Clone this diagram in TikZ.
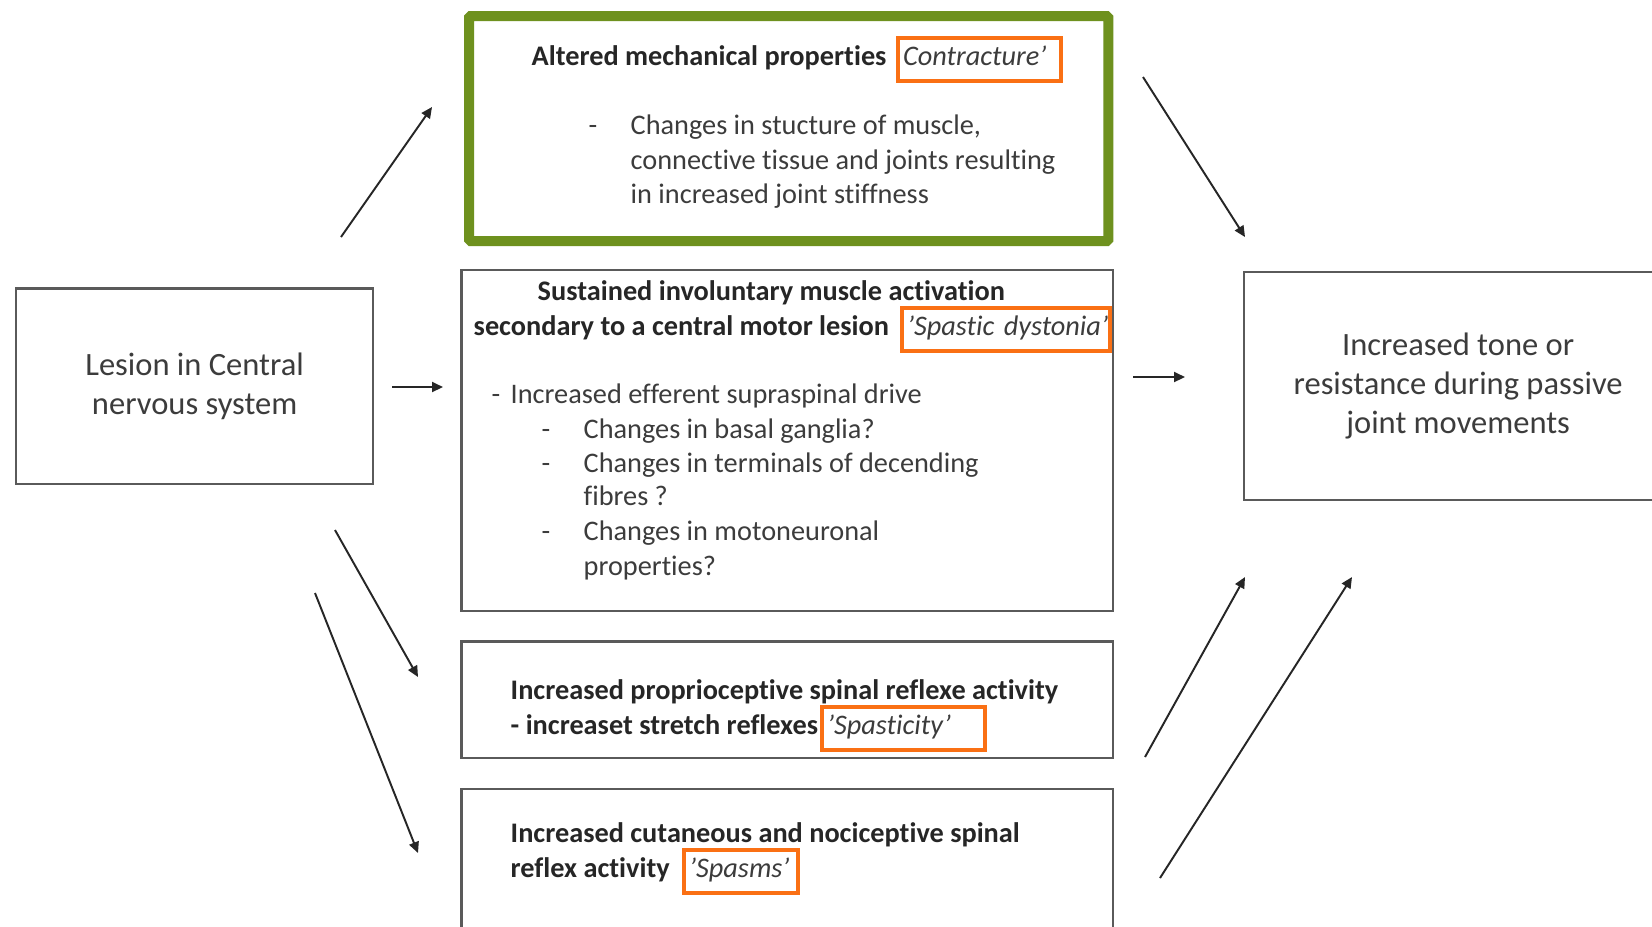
\documentclass[tikz,border=0pt]{standalone}
\usepackage{fontspec}
\setmainfont[Ligatures={TeX,NoCommon}]{Carlito}
\usepackage{tikz}
\usetikzlibrary{arrows.meta,positioning}
\definecolor{boxgray}{RGB}{90,90,90}
\definecolor{textgray}{RGB}{60,60,60}
\definecolor{framegreen}{RGB}{110,145,30}
\definecolor{tagorange}{RGB}{250,112,20}
\newcommand{\bodyfont}{\fontsize{8.05}{9.8}\selectfont}
\newcommand{\bigfont}{\fontsize{9.25}{11.2}\selectfont}
\tikzset{
  box/.style={draw=boxgray,line width=0.6pt,inner sep=0pt,outer sep=0pt,anchor=north west},
  txt/.style={anchor=base west,inner sep=0pt,font=\bodyfont,text=textgray},
  hd/.style={txt,font=\bodyfont\bfseries,text=black!85},
  tag/.style={draw=tagorange,line width=1.15pt,outer sep=0pt,anchor=base west,inner xsep=0.05cm,inner ysep=0pt,
    text height=0.27cm,text depth=0.16cm,align=left,font=\bodyfont\itshape,text=textgray},
  arr/.style={line width=0.55pt,draw=black!85,-{Triangle[length=1.1mm,width=1mm]}}
}

\begin{document}
\begin{tikzpicture}[x=0.01cm,y=-0.01cm]
  \useasboundingbox (0,0) rectangle (1652,926);
  \clip (0,0) rectangle (1652,926);
  \fill[white] (0,0) rectangle (1652,926);
  % boxes
  \node[box,font=\bigfont,text=textgray,align=center,minimum width=3.57cm,minimum height=1.95cm] (lesion) at (16,288.5) {Lesion in Central\\nervous system};
  \node[box,draw=framegreen,line width=0.1cm,rounded corners=0.5pt,minimum width=6.39cm,minimum height=2.25cm] (contr) at (469,16) {};
  \node[box,minimum width=6.51cm,minimum height=3.41cm] (sustain) at (461.5,270) {};
  \node[box,minimum width=6.51cm,minimum height=1.16cm] (proprio) at (461.5,641.5) {};
  \node[box,minimum width=6.51cm,minimum height=1.8cm] (cutan) at (461.5,789) {};
  \node[box,font=\bigfont,text=textgray,align=center,minimum width=4.28cm,minimum height=2.28cm] (tone) at (1244,272) {Increased tone or\\resistance during passive\\joint movements};
  % contracture
  \node[hd] (althd) at (531,65) {Altered mechanical properties};
  \node[tag,text width=1.53cm] (alttag) at (898,65) {Contracture'};
  \node[txt] (altdash) at (588,134) {-};
  \node[txt] (alt1) at (630,134) {Changes in stucture of muscle,};
  \node[txt] (alt2) at (630,169) {connective tissue and joints resulting};
  \node[txt] (alt3) at (630,203) {in increased joint stiffness};
  % spastic dystonia
  \node[hd] (sus1) at (537,300) {Sustained involuntary muscle activation};
  \node[hd] (sus2) at (473,335) {secondary to a central motor lesion};
  \node[tag,text width=1.98cm] (sustag) at (902,335) {\mbox{'Spastic dystonia'}};
  \node[txt] (susdash) at (491,403) {-};
  \node[txt] (sus3) at (510,403) {Increased efferent supraspinal drive};
  \node[txt] (susd1) at (541,438) {-};
  \node[txt] (susd2) at (541,472) {-};
  \node[txt] (susd3) at (541,540) {-};
  \node[txt] (sus4) at (583,438) {Changes in basal ganglia?};
  \node[txt] (sus5) at (583,472) {Changes in terminals of decending};
  \node[txt] (sus6) at (583,505) {fibres ?};
  \node[txt] (sus7) at (583,540) {Changes in motoneuronal};
  \node[txt] (sus8) at (583,575) {properties?};
  % spasticity
  \node[hd] (pro1) at (510,699) {Increased proprioceptive spinal reflexe activity};
  \node[hd] (pro2) at (510,734) {- increaset stretch reflexes};
  \node[tag,text width=1.53cm] (protag) at (822,734) {'Spasticity'};
  % spasms
  \node[hd] (cut1) at (510,842) {Increased cutaneous and nociceptive spinal};
  \node[hd] (cut2) at (510,877) {reflex activity};
  \node[tag,text width=1.04cm] (cuttag) at (684,877) {'Spasms'};
  % arrows
  \coordinate (up1) at (341,237);    \coordinate (up1e) at (432,107);
  \coordinate (dn1) at (1143,77);    \coordinate (dn1e) at (1245,237);
  \coordinate (mid1) at (392,387);   \coordinate (mid1e) at (443,387);
  \coordinate (mid2) at (1133,377);  \coordinate (mid2e) at (1185,377);
  \coordinate (dn2) at (335,530);    \coordinate (dn2e) at (418,677);
  \coordinate (dn3) at (315,593);    \coordinate (dn3e) at (418,853);
  \coordinate (up2) at (1145,757);   \coordinate (up2e) at (1245,577);
  \coordinate (up3) at (1160,878);   \coordinate (up3e) at (1352,577);
  \draw[arr] (up1) -- (up1e);
  \draw[arr] (dn1) -- (dn1e);
  \draw[arr] (mid1) -- (mid1e);
  \draw[arr] (mid2) -- (mid2e);
  \draw[arr] (dn2) -- (dn2e);
  \draw[arr] (dn3) -- (dn3e);
  \draw[arr] (up2) -- (up2e);
  \draw[arr] (up3) -- (up3e);
\end{tikzpicture}
\end{document}
